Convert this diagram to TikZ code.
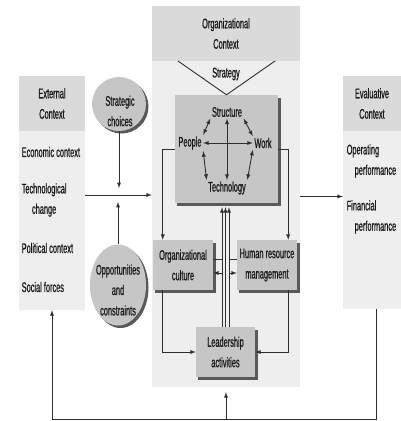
\documentclass[tikz,border=0pt]{standalone}
\usepackage{fontspec}
\setmainfont[FakeStretch=0.53, FakeBold=0.7]{Liberation Sans}
\usepackage{tikz}
\usetikzlibrary{shapes.geometric}
\usetikzlibrary{shadows}
\tikzset{>=latex}

\definecolor{panelbg}{HTML}{EEEEEE}
\definecolor{headbg}{HTML}{DADADA}
\definecolor{boxgray}{HTML}{C6C6C6}
\definecolor{linegray}{HTML}{2E2E2E}

\tikzset{
  lbl/.style={font=\fontsize{14}{20.5}\selectfont, text=black!90, align=center, inner sep=1.5bp},
  panel/.style={fill=panelbg, inner sep=0},
  head/.style={fill=headbg, inner sep=0, lbl},
  shade/.style={drop shadow={shadow xshift=2.5bp, shadow yshift=-2.5bp, fill=black!65, opacity=1}},
  gbox/.style={fill=boxgray, shade, lbl},
  ball/.style={fill=boxgray, shade, inner sep=0},
  wire/.style={draw=linegray, line width=0.9bp},
}

\begin{document}
\begin{tikzpicture}[x=1bp, y=-1bp]
      \useasboundingbox (0,0) rectangle (401,421);
      % panels
      \node[panel, minimum width=66bp, minimum height=234bp] (ext) at (52,193) {};
      \node[head, minimum width=66bp, minimum height=55bp] (exthead) at (52,103.5) {External\\Context};
      \node[panel, minimum width=148bp, minimum height=381bp] (org) at (226,196.5) {};
      \node[head, minimum width=148bp, minimum height=55bp] (orghead) at (226,33.5) {Organizational\\Context};
      \node[panel, minimum width=58bp, minimum height=233bp] (eval) at (372,192.5) {};
      \node[head, minimum width=58bp, minimum height=55bp] (evalhead) at (372,103.5) {Evaluative\\Context};

	  \node[lbl, anchor=west] (econ) at (20,152) {Economic context};
	  \node[lbl, anchor=west] (techc) at (20,200) {Technological\\change};
	  \node[lbl, anchor=west] (polit) at (20,248) {Political context};
	  \node[lbl, anchor=west] (social) at (20,287) {Social forces};
	  \node[lbl, anchor=west, align=left] (operp) at (345,161) {Operating\\\hspace*{8bp}performance};
	  \node[lbl, anchor=west, align=left] (finp) at (345,217) {Financial\\\hspace*{8bp}performance};

      % strategy
      \node[lbl] (strategy) at (226,74) {Strategy};
      \coordinate (vl) at (178,61);
      \coordinate (vr) at (275,61);
      \node[gbox, minimum width=103bp, minimum height=108bp] (inner) at (226.5,149) {};
      \draw[wire] (vl) -- (inner.north) -- (vr);

	  \node[lbl] (struct) at (227,112) {Structure};
	  \node[lbl] (people) at (190,143) {People};
	  \node[lbl] (work) at (263,143) {Work};
	  \node[lbl] (techn) at (227,188) {Technology};
	  \draw[wire, <->] (struct.south west) -- (people.north east);
	  \draw[wire, <->] (people.south east) -- (techn.north west);
	  \draw[wire, <->] (struct.south east) -- (work.north west);
	  \draw[wire, <->] (work.south west) -- (techn.north east);
	  \draw[wire, <->] (people.east) -- (work.west);
	  \draw[wire, <->] (struct.south) -- (techn.north);

      % choices
      \node[ball, circle, minimum size=54bp] (strat) at (119,104) {};
      \node[lbl] (strattext) at (120,111) {Strategic\\choices};
      \node[ball, ellipse, minimum width=56bp, minimum height=81bp] (opp) at (118,285) {};
      \node[lbl] (opptext) at (118,290) {Opportunities\\and\\constraints};

      % boxes
      \node[gbox, minimum width=60bp, minimum height=50bp] (cult) at (183,265) {Organizational\\culture};
      \node[gbox, minimum width=60bp, minimum height=50bp] (hr) at (267,265) {Human resource\\management};
      \node[gbox, minimum width=59bp, minimum height=50bp] (lead) at (225.5,352) {Leadership\\activities};

      % connectors
      \coordinate (meet) at (118,195);
      \draw[wire, ->] (ext.east |- meet) -- (org.west |- meet);
      \draw[wire, ->] (strat.south) -- ([yshift=7bp]strat.south |- meet);
      \draw[wire, ->] (opp.north) -- ([yshift=-7bp]opp.north |- meet);
      \draw[wire, ->] (org.east) -- (org.east -| eval.west);

      \draw[wire, ->] (inner.west) -| ([xshift=10bp]cult.north west);
      \draw[wire, ->] (inner.east) -| ([xshift=-9bp]hr.north east);
      \draw[wire, ->] ([xshift=10bp]cult.south west) |- (lead.west);
      \draw[wire, ->] ([xshift=-9bp]hr.south east) |- (lead.east);

      \draw[wire, ->, shorten >=4bp] ([xshift=-3.5bp]lead.north) -- ([xshift=-3.5bp]lead.north |- inner.south);
      \draw[wire, ->, shorten >=4bp] (lead.north) -- (lead.north |- inner.south);
      \draw[wire, ->, shorten >=4bp] ([xshift=3.5bp]lead.north) -- ([xshift=3.5bp]lead.north |- inner.south);
      \coordinate (wl) at (222,259);
      \coordinate (wr) at (229,259);
      \coordinate (al) at (222,273);
      \coordinate (ar) at (229,273);
      \draw[wire] (cult.east |- wl) -- (wl);
      \draw[wire] (hr.west |- wr) -- (wr);
      \draw[wire, ->] (al) -- (cult.east |- al);
      \draw[wire, ->] (ar) -- (hr.west |- ar);

      % feedback
      \coordinate (loopl) at (52,419);
      \draw[wire, ->] ([xshift=4bp]eval.south) |- (loopl) -- (ext.south);
      \draw[wire, ->, shorten >=5bp] (org.south |- loopl) -- (org.south);
\end{tikzpicture}
\end{document}
